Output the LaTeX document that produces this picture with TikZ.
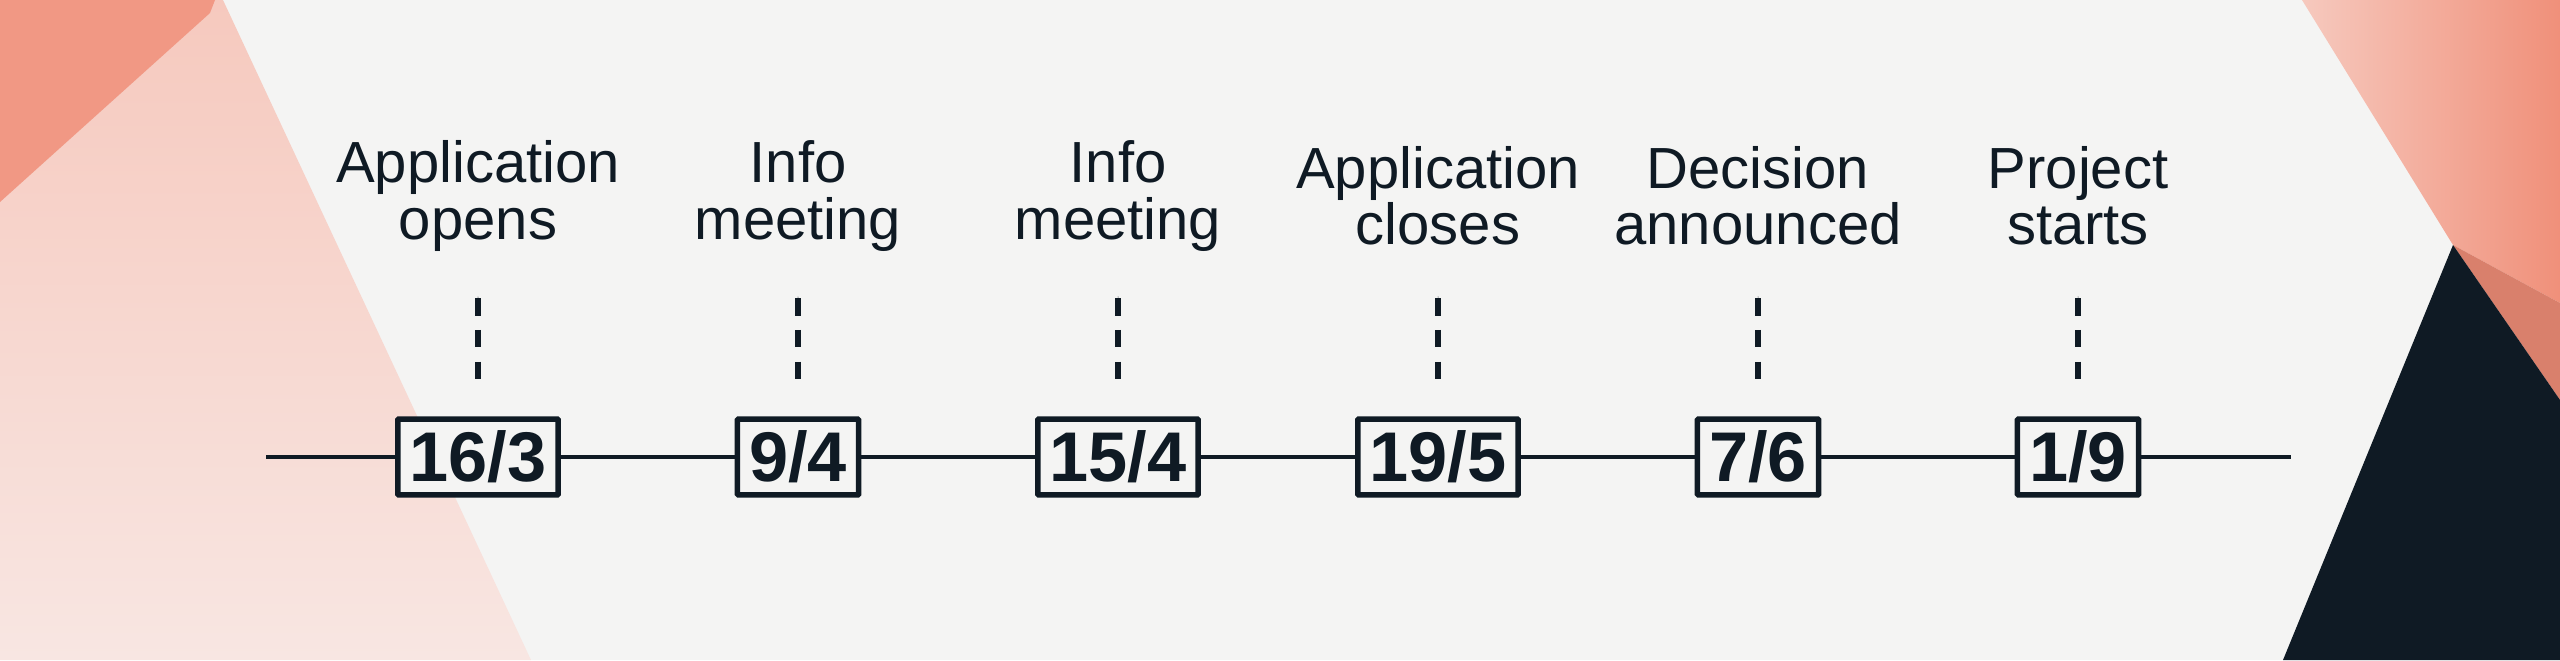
\documentclass[tikz,border=0pt]{standalone}
\usepackage{fontspec}
\setmainfont{Liberation Sans}
\definecolor{ink}{HTML}{0F1A24}
\definecolor{bg}{HTML}{F4F4F3}
\definecolor{salmon}{HTML}{F0907A}
\definecolor{salmondk}{HTML}{D9806C}
\definecolor{pinklt}{HTML}{F6C9BE}
\definecolor{pinkxl}{HTML}{F8E6E2}
\begin{document}
\begin{tikzpicture}[x=0.01cm,y=-0.01cm,
  pill/.style={draw=ink,line width=1.6pt,rounded corners=45\dimexpr0.01cm\relax,minimum width=253\dimexpr0.01cm\relax,minimum height=90\dimexpr0.01cm\relax,font=\bfseries\fontsize{20}{22}\selectfont,text=ink,fill=bg},
  lbl/.style={align=center,font=\fontsize{16.5}{16}\selectfont,text=ink},
  dot/.style={circle,fill=ink,inner sep=0pt,minimum size=20\dimexpr0.01cm\relax},
  stem/.style={draw=ink,line width=1.6pt,dash pattern=on 5pt off 4pt},
  axis/.style={draw=ink,line width=1.2pt}]
\useasboundingbox (0,0) rectangle (2560,660);
\fill[bg] (0,0) rectangle (2560,660);
% left decor
\shade[top color=pinklt,bottom color=pinkxl] (0,0) -- (223,0) -- (531,660) -- (0,660) -- cycle;
\fill[salmon!85!pinklt] (0,0) -- (215,0) -- (210,13) -- (0,202) -- cycle;
% right decor
\shade[left color=pinklt,right color=salmon] (2302,0) -- (2560,0) -- (2560,303) -- (2453,245) -- cycle;
\fill[salmondk] (2453,245) -- (2560,303) -- (2560,400) -- cycle;
\fill[ink] (2453,245) -- (2560,400) -- (2560,660) -- (2283,660) -- cycle;
% timeline
\coordinate (L) at (266,457);
\coordinate (R) at (2291,457);
\draw[axis] (L) -- (R);
\foreach \i/\x/\d/\t in {1/478/16\slash 3/Application\\opens,2/798/9\slash 4/Info\\meeting,3/1118/15\slash 4/Info\\meeting,4/1438/19\slash 5/Application\\closes,5/1758/7\slash 6/Decision\\announced,6/2078/1\slash 9/Project\\starts}{
  \node[pill] (p\i) at (\x,457) {\d};
  \node[dot] (d\i) at (\x,297) {};
  \coordinate (s\i) at (\x,388);
  \draw[stem] (d\i.south) -- (s\i);
  \node[lbl] (t\i) at (\x,196) {\t};
}
\end{tikzpicture}
\end{document}
